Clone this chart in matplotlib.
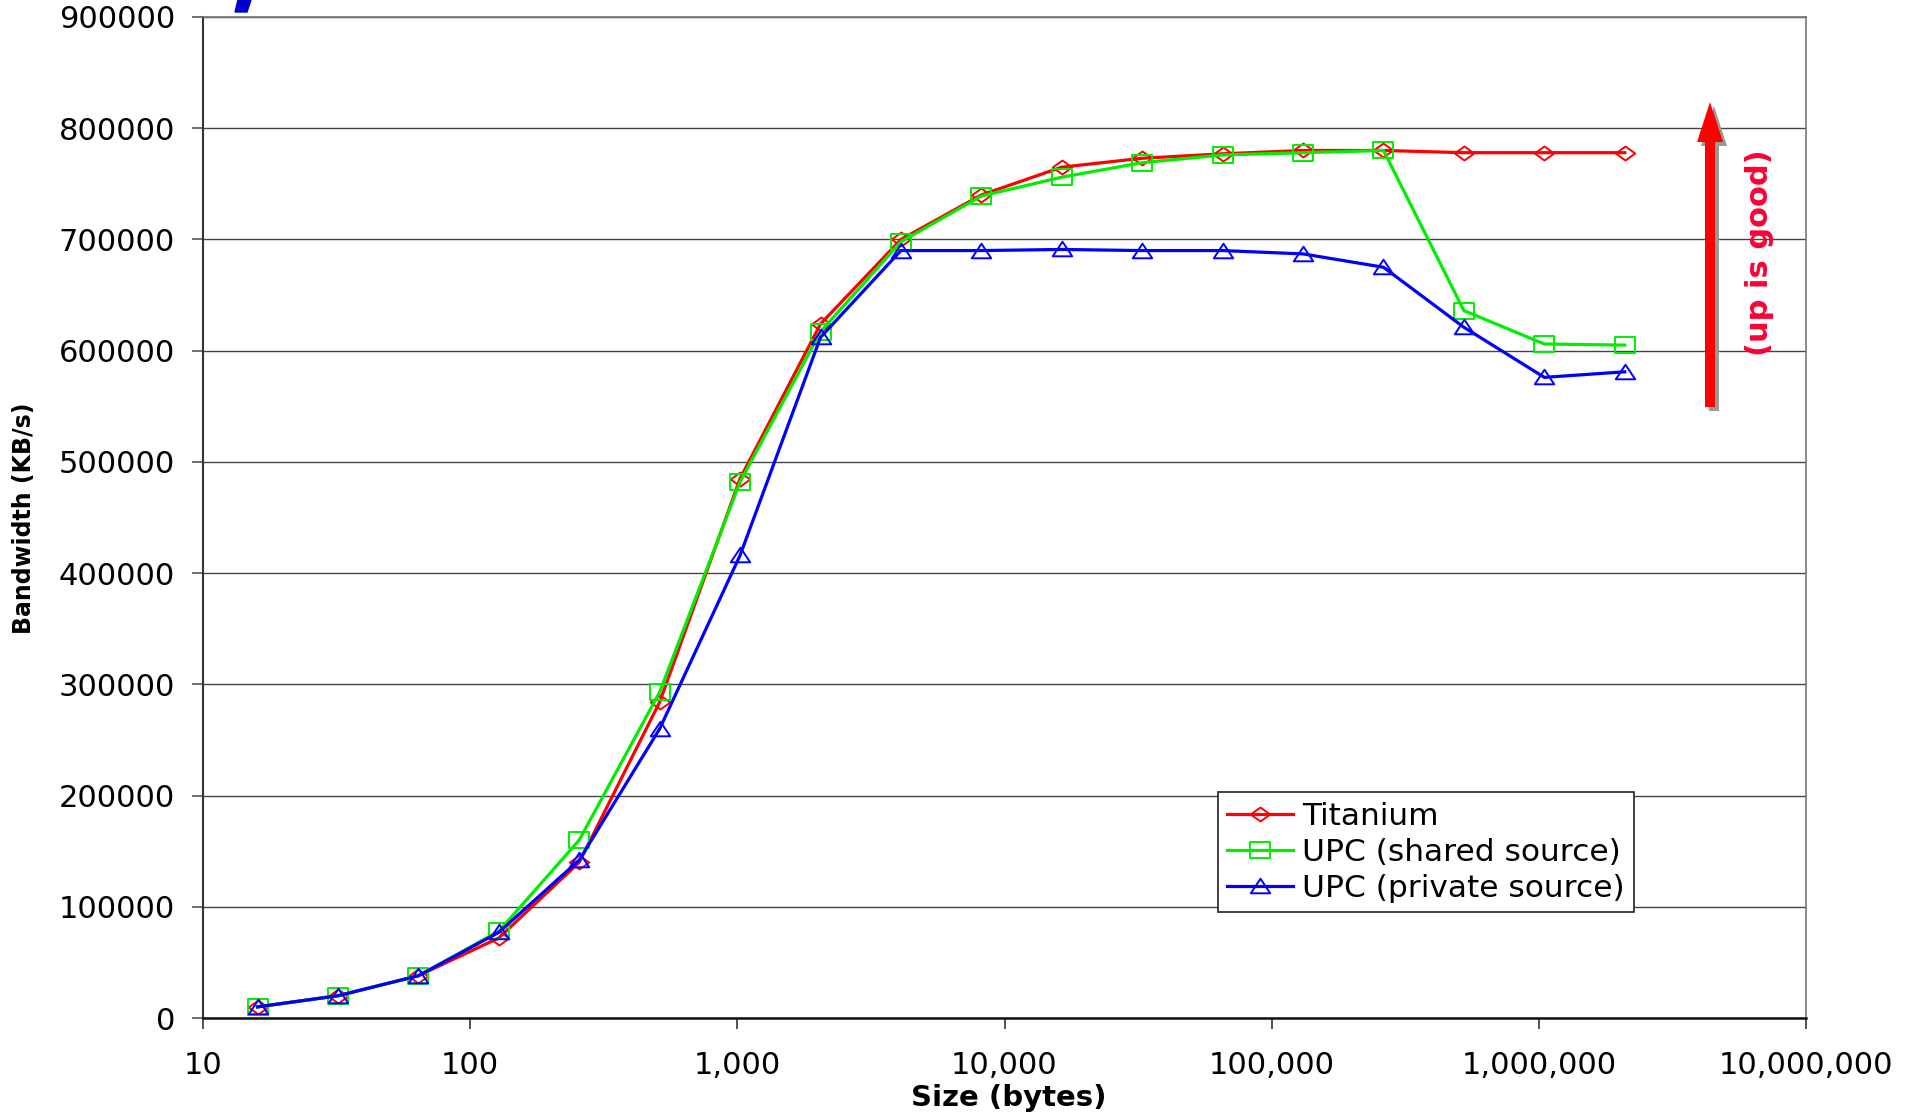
import numpy as np
import matplotlib
matplotlib.use('Agg')
import matplotlib.pyplot as plt
from matplotlib.path import Path
from matplotlib.patches import FancyArrow, Polygon
from matplotlib.ticker import FuncFormatter

# message sizes in bytes (16 .. 2M)
sizes = [16, 32, 64, 128, 256, 512, 1024, 2048, 4096, 8192, 16384, 32768,
         65536, 131072, 262144, 524288, 1048576, 2097152]

titanium = [10000, 20000, 38000, 72000, 140000, 284000, 485000, 624000, 700000,
            740000, 765000, 773000, 777000, 780000, 780000, 778000, 778000, 778000]
upc_shared = [10000, 20000, 38000, 78000, 160000, 293000, 482000, 617000, 698000,
              739000, 756000, 769000, 776000, 778000, 780000, 636000, 606000, 605000]
upc_private = [10000, 20000, 38000, 77000, 142000, 260000, 416000, 612000, 690000,
               690000, 691000, 690000, 690000, 687000, 675000, 621000, 576000, 581000]

labels = ['Titanium', 'UPC (shared source)', 'UPC (private source)']

plt.rcParams['font.family'] = ['DejaVu Sans']

# markers a bit flatter than tall, like the original
diamond = Path([(-1, 0), (0, 0.72), (1, 0), (0, -0.72), (-1, 0)],
               [Path.MOVETO, Path.LINETO, Path.LINETO, Path.LINETO, Path.CLOSEPOLY])
square = Path([(-1, -0.78), (1, -0.78), (1, 0.78), (-1, 0.78), (-1, -0.78)],
              [Path.MOVETO, Path.LINETO, Path.LINETO, Path.LINETO, Path.CLOSEPOLY])
triangle = Path([(-1, -0.7), (1, -0.7), (0, 0.8), (-1, -0.7)],
                [Path.MOVETO, Path.LINETO, Path.LINETO, Path.CLOSEPOLY])

fig = plt.figure(figsize=(19.18, 11.16), dpi=100)
ax = fig.add_axes([203 / 1918, 1 - 1018 / 1116, 1603 / 1918, 1001 / 1116])

ax.plot(sizes, titanium, color='#ff0000', lw=2.3, marker=diamond, ms=14,
        mfc='none', mec='#ff0000', mew=1.4, label=labels[0])
ax.plot(sizes, upc_shared, color='#00ee00', lw=2.3, marker=square, ms=14,
        mfc='none', mec='#00ee00', mew=1.4, label=labels[1])
ax.plot(sizes, upc_private, color='#0000ff', lw=2.3, marker=triangle, ms=14,
        mfc='none', mec='#0000ff', mew=1.4, label=labels[2])

ax.set_xscale('log')
ax.set_xlim(10, 1e7)
ax.set_ylim(0, 900000)
ax.set_yticks(np.arange(0, 900001, 100000))
ax.yaxis.set_major_formatter(FuncFormatter(lambda v, p: '%d' % v))
ax.xaxis.set_major_formatter(FuncFormatter(lambda v, p: '{:,}'.format(int(round(v)))))
ax.minorticks_off()
ax.grid(axis='y', color='#444444', lw=1.0)
ax.set_axisbelow(True)

ax.tick_params(axis='y', labelsize=22, length=8, width=1.2, pad=12, color='#555555')
ax.tick_params(axis='x', labelsize=22, length=8, width=1.2, pad=16, color='#333333')

for s in ['top', 'right']:
    ax.spines[s].set_color('#777777')
    ax.spines[s].set_linewidth(1.2)
ax.spines['left'].set_color('#333333')
ax.spines['left'].set_linewidth(1.5)
ax.spines['bottom'].set_color('#111111')
ax.spines['bottom'].set_linewidth(1.8)

fig.text(24 / 1918, 1 - 518 / 1116, 'Bandwidth (KB/s)', rotation=90, fontsize=17,
         fontweight='bold', ha='center', va='center')
fig.text(1009 / 1918, 1 - 1098 / 1116, 'Size (bytes)', fontsize=21,
         fontweight='bold', ha='center', va='center')

leg = ax.legend(loc='lower left', bbox_to_anchor=(0.633, 0.106), fontsize=22.5,
                fancybox=False, framealpha=1, edgecolor='#222222',
                handlelength=2.1, borderpad=0.3, labelspacing=0.22,
                handletextpad=0.3, borderaxespad=0)
leg.get_frame().set_linewidth(1.2)

# "up is good" arrow with its gray shadow
tr = fig.dpi_scale_trans
shadow = FancyArrow(17.14, 1.116 * 10 - 4.11, 0, 3.05, width=0.10, head_width=0.26,
                    head_length=0.40, length_includes_head=True, color='#999999',
                    lw=0, transform=tr)
fig.add_artist(shadow)
arrow = FancyArrow(17.10, 1.116 * 10 - 4.07, 0, 3.05, width=0.10, head_width=0.26,
                   head_length=0.40, length_includes_head=True, color='#ff0000',
                   lw=0, transform=tr)
fig.add_artist(arrow)
fig.text(1760 / 1918, 1 - 253 / 1116, '(up is good)', rotation=90, fontsize=22,
         fontweight='bold', color='#ff0033', ha='center', va='center')

# bit of the cut-off slide title in the corner
frag = Polygon([(238 / 1918, 1.0), (251 / 1918, 1.0), (247 / 1918, 1 - 12 / 1116),
                (235 / 1918, 1 - 12 / 1116)], closed=True, color='#0000cc',
               transform=fig.transFigure)
fig.add_artist(frag)

fig.savefig('out.png', dpi=100)
